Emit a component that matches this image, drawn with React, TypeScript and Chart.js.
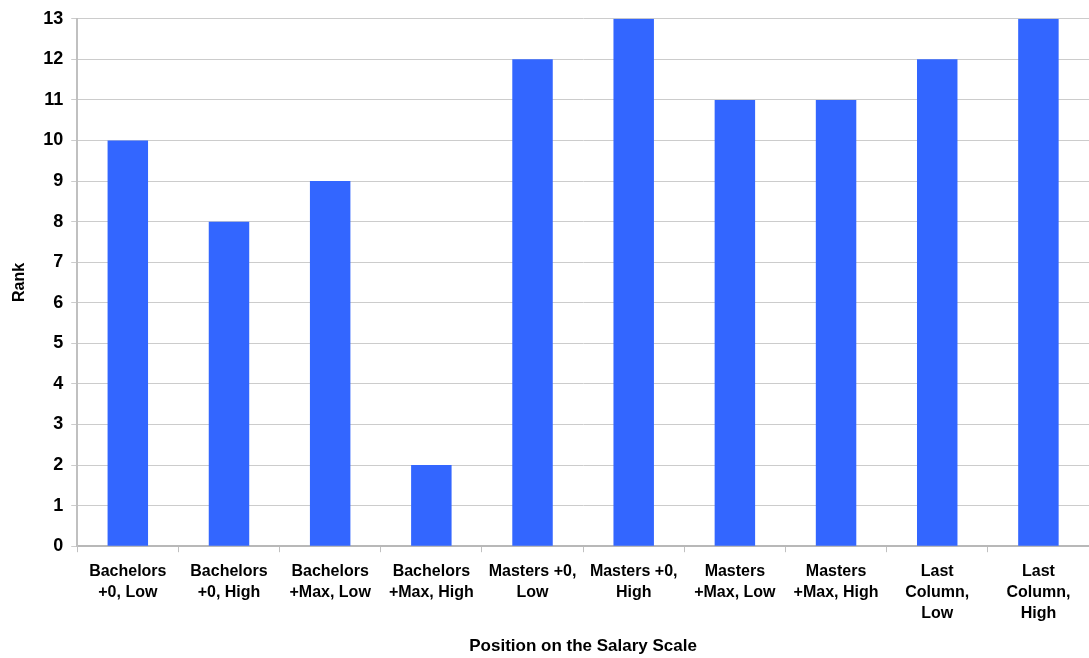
import React, { useEffect, useRef } from "react";
import { Chart, registerables } from "chart.js";

Chart.register(...registerables);

const categories: string[][] = [
  ["Bachelors", "+0, Low"],
  ["Bachelors", "+0, High"],
  ["Bachelors", "+Max, Low"],
  ["Bachelors", "+Max, High"],
  ["Masters +0,", "Low"],
  ["Masters +0,", "High"],
  ["Masters", "+Max, Low"],
  ["Masters", "+Max, High"],
  ["Last", "Column,", "Low"],
  ["Last", "Column,", "High"],
];

const rankValues: number[] = [10, 8, 9, 2, 12, 13, 11, 11, 12, 13];

const yTitle = "Rank";
const xTitle = "Position on the Salary Scale";

export default function App() {
  const ref = useRef<HTMLCanvasElement | null>(null);

  useEffect(() => {
    if (!ref.current) return;
    const font = "'Liberation Sans', Arial, sans-serif";
    const chart = new Chart(ref.current, {
      type: "bar",
      data: {
        labels: categories as any,
        datasets: [
          {
            data: rankValues,
            backgroundColor: "#3366FF",
            borderWidth: 0,
            barPercentage: 0.4,
            categoryPercentage: 1,
          },
        ],
      },
      options: {
        animation: false,
        responsive: false,
        maintainAspectRatio: false,
        layout: { padding: { top: 8, right: 0, bottom: 1, left: 10 } },
        plugins: { legend: { display: false }, tooltip: { enabled: false } },
        scales: {
          x: {
            offset: true,
            grid: {
              offset: true,
              drawOnChartArea: false,
              drawTicks: true,
              tickLength: 6,
              color: "#c0c0c0",
            },
            border: { color: "#b8b8b8", width: 2 },
            ticks: {
              color: "#000",
              font: { family: font, size: 16, weight: "bold", lineHeight: 1.3 },
              maxRotation: 0,
              autoSkip: false,
              padding: 9,
            },
            title: {
              display: true,
              text: xTitle,
              color: "#000",
              font: { family: font, size: 17, weight: "bold" },
              padding: { top: 4, bottom: 0 },
            },
          },
          y: {
            min: 0,
            max: 13,
            grid: { color: "#cccccc", lineWidth: 1, tickLength: 6 },
            border: { color: "#c0c0c0", width: 2 },
            ticks: {
              stepSize: 1,
              color: "#000",
              font: { family: font, size: 18, weight: "bold" },
              padding: 8,
            },
            title: {
              display: true,
              text: yTitle,
              color: "#000",
              font: { family: font, size: 16, weight: "bold" },
              padding: { top: 0, bottom: 6 },
            },
          },
        },
      },
    });
    return () => chart.destroy();
  }, []);

  return (
    <div style={{ position: "fixed", left: 0, top: 0, width: 1089, height: 658, background: "#fff" }}>
      <canvas ref={ref} width={1089} height={658} style={{ width: 1089, height: 658 }} />
    </div>
  );
}
